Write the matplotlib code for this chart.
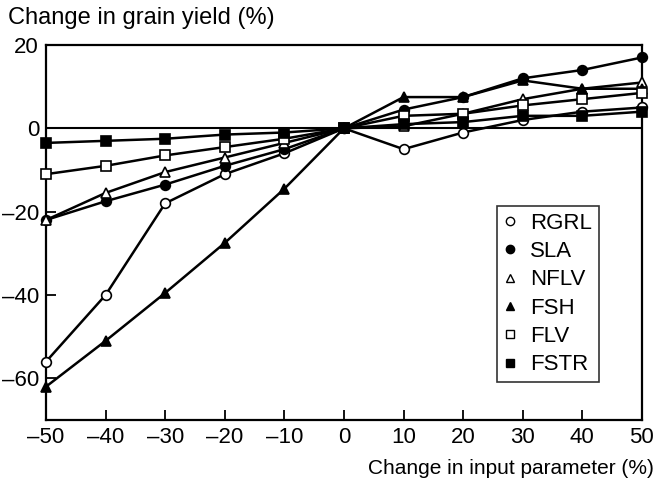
import matplotlib
matplotlib.use("Agg")
import matplotlib.pyplot as plt
from matplotlib.lines import Line2D

plt.rcParams["font.family"] = ["Liberation Sans", "DejaVu Sans"]

# ----------------------------
# Sensitivity data
# ----------------------------
change = [-50, -40, -30, -20, -10, 0, 10, 20, 30, 40, 50]

rgrl = [-56, -40, -18, -11, -6, 0, -5, -1, 2, 4, 5]
sla = [-22, -17.5, -13.5, -9, -5, 0, 4.5, 7.5, 12, 14, 17]
nflv = [-22, -15.5, -10.5, -7, -3.5, 0, 0.5, 3.5, 7, 9.5, 11]
fsh = [-62, -51, -39.5, -27.5, -14.5, 0, 7.5, 7.5, 11.5, 9.5, 9.5]
flv = [-11, -9, -6.5, -4.5, -2.5, 0, 3, 3.5, 5.5, 7, 8.5]
fstr = [-3.5, -3, -2.5, -1.5, -1, 0, 1, 1.5, 3, 3, 4]

series = [
    ("RGRL", rgrl, "o", "white"),
    ("SLA", sla, "o", "black"),
    ("NFLV", nflv, "^", "white"),
    ("FSH", fsh, "^", "black"),
    ("FLV", flv, "s", "white"),
    ("FSTR", fstr, "s", "black"),
]

# ----------------------------
# Plot
# ----------------------------
fig = plt.figure(figsize=(6.55, 4.88), dpi=100)
ax = fig.add_axes([0.0702, 0.1393, 0.9098, 0.7685])

ax.axhline(0, color="black", lw=1.5, zorder=1)

handles = []
for name, vals, mk, face in series:
    ax.plot(change, vals, color="black", lw=1.8, marker=mk, ms=7,
            mfc=face, mec="black", mew=1.2, clip_on=False, zorder=3)
    handles.append(Line2D([], [], ls="none", marker=mk, ms=6,
                          mfc=face, mec="black", mew=1.0, label=name))

ax.set_xlim(-50, 50)
ax.set_ylim(-70, 20)
ax.set_xticks(range(-50, 51, 10))
ax.set_yticks([-60, -40, -20, 0, 20])
ax.set_xticklabels([str(v).replace("-", "\u2013") for v in range(-50, 51, 10)])
ax.set_yticklabels(["\u201360", "\u201340", "\u201320", "0", "20"])
ax.tick_params(direction="in", length=7, width=1.3, labelsize=16, pad=5)

for s in ax.spines.values():
    s.set_linewidth(1.6)

fig.text(0.012, 0.963, "Change in grain yield (%)", fontsize=17, va="center", ha="left")
fig.text(0.998, 0.04, "Change in input parameter (%)", fontsize=15, va="center", ha="right")

leg = ax.legend(handles=handles, loc="lower right", bbox_to_anchor=(0.928, 0.101),
                fontsize=16, frameon=True, fancybox=False, handlelength=0.6,
                handletextpad=0.6, borderpad=0.3, labelspacing=0.33,
                borderaxespad=0)
leg.get_frame().set_edgecolor("black")
leg.get_frame().set_linewidth(1.2)

fig.savefig("out.png", dpi=100)
plt.close(fig)
